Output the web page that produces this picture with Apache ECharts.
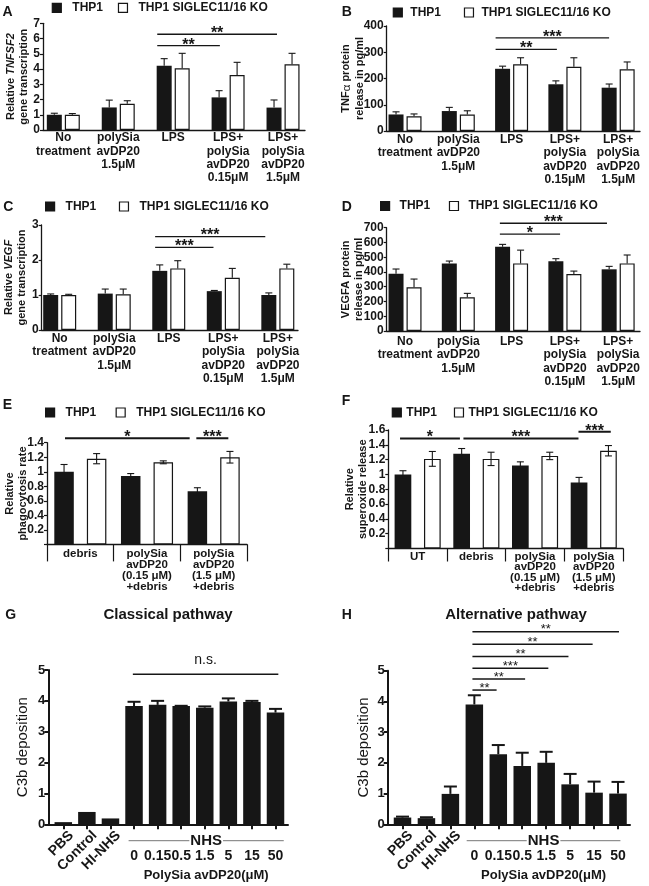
<!DOCTYPE html>
<html>
<head>
<meta charset="utf-8">
<script src="https://cdn.jsdelivr.net/npm/echarts@6/dist/echarts.min.js"></script>
<style>
  html, body { margin: 0; padding: 0; background: #fff; }
  #main { width: 649px; height: 886px; }
</style>
</head>
<body>
<div id="main"></div>
<script>
// ---------- data ----------
var groupsAD = ['No\ntreatment', 'polySia\navDP20\n1.5μM', 'LPS',
    'LPS+\npolySia\navDP20\n0.15μM', 'LPS+\npolySia\navDP20\n1.5μM'];

var tnfsf2Thp1    = [1.0, 1.48, 4.22, 2.14, 1.47];
var tnfsf2Thp1Err = [0.1, 0.48, 0.46, 0.44, 0.5];
var tnfsf2Ko      = [1.0, 1.72, 4.05, 3.61, 4.31];
var tnfsf2KoErr   = [0.08, 0.2, 0.98, 0.83, 0.72];
var tnfsf2Sig     = [[1.71, 2.85, 5.53], [1.71, 3.89, 6.28]];
var tnfsf2Stars   = ['**', '**'];

var tnfThp1    = [63, 76, 237, 178, 165];
var tnfThp1Err = [10, 14, 10, 13, 14];
var tnfKo      = [56, 63, 254, 245, 235];
var tnfKoErr   = [9, 14, 25, 34, 28];
var tnfSig     = [[1.70, 2.85, 311], [1.70, 3.83, 355]];
var tnfStars   = ['**', '***'];

var vegfThp1    = [1.0, 1.04, 1.69, 1.11, 1.0];
var vegfThp1Err = [0.03, 0.13, 0.17, 0.02, 0.06];
var vegfKo      = [1.0, 1.02, 1.76, 1.49, 1.76];
var vegfKoErr   = [0.02, 0.15, 0.22, 0.27, 0.12];
var vegfSig     = [[1.75, 2.82, 2.36], [1.75, 3.77, 2.67]];
var vegfStars   = ['***', '***'];

var vegfaThp1    = [388, 458, 571, 472, 418];
var vegfaThp1Err = [32, 16, 16, 18, 20];
var vegfaKo      = [296, 228, 458, 386, 458];
var vegfaKoErr   = [56, 27, 90, 20, 57];
var vegfaSig     = [[1.78, 2.91, 657], [1.78, 3.79, 730]];
var vegfaStars   = ['*', '***'];

var phagoGroups  = ['debris', 'polySia\navDP20\n(0.15 μM)\n+debris', 'polySia\navDP20\n(1.5 μM)\n+debris'];
var phagoThp1    = [1.0, 0.94, 0.73];
var phagoThp1Err = [0.1, 0.035, 0.05];
var phagoKo      = [1.18, 1.13, 1.2];
var phagoKoErr   = [0.07, 0.02, 0.08];
var phagoSig     = [[-0.23, 1.64, 1.46], [1.74, 2.22, 1.46]];
var phagoStars   = ['*', '***'];

var superGroups  = ['UT', 'debris', 'polySia\navDP20\n(0.15 μM)\n+debris', 'polySia\navDP20\n(1.5 μM)\n+debris'];
var superThp1    = [1.0, 1.28, 1.12, 0.89];
var superThp1Err = [0.05, 0.07, 0.05, 0.07];
var superKo      = [1.21, 1.21, 1.25, 1.32];
var superKoErr   = [0.1, 0.09, 0.05, 0.07];
var superSig     = [[-0.3, 0.72, 1.486], [0.78, 2.74, 1.486], [2.74, 3.29, 1.576]];
var superStars   = ['*', '***', '***'];

var c3bCats = ['PBS', 'Control', 'HI-NHS', '0', '0.15', '0.5', '1.5', '5', '15', '50'];

var classical       = [0.07, 0.4, 0.19, 3.83, 3.87, 3.83, 3.78, 3.98, 3.96, 3.62];
var classicalErr    = [0, 0, 0, 0.14, 0.13, 0.01, 0.04, 0.1, 0.04, 0.12];
var classicalSig    = [[2.95, 9.12, 4.86]];
var classicalSigTxt = ['n.s.'];

var alternative       = [0.22, 0.2, 0.99, 3.9, 2.28, 1.9, 2.0, 1.3, 1.03, 1.0];
var alternativeErr    = [0.03, 0.03, 0.24, 0.3, 0.3, 0.43, 0.36, 0.34, 0.36, 0.38];
var alternativeSig    = [[2.92, 3.93, 4.37], [2.92, 5.12, 4.73], [2.92, 6.09, 5.08],
                         [2.92, 6.93, 5.46], [2.92, 7.94, 5.86], [2.92, 9.04, 6.27]];
var alternativeSigTxt = ['**', '**', '***', '**', '**', '**'];

var nhsG = [[2.77, 9.35, 0]];
var nhsH = [[2.68, 9.1, 0]];
var nhsLabel = 'NHS';
var doseTitle = 'PolySia avDP20(μM)';

var seriesNames = ['THP1', 'THP1 SIGLEC11/16 KO'];

// ---------- layout ----------
var FONT = '"Liberation Sans", Arial, Helvetica, sans-serif';
var INK = '#161616';

var pairPanels = [
    { letter: 'A', lx: 7.5, ly: 12.5,
      grid: { left: 43, top: 23.3, width: 262, height: 106.7 }, xr: [-0.37, 4.4], yr: [0, 7, 1],
      cats: groupsAD, thp1: tnfsf2Thp1, thp1Err: tnfsf2Thp1Err, ko: tnfsf2Ko, koErr: tnfsf2KoErr,
      sig: tnfsf2Sig, stars: tnfsf2Stars,
      name: '{n|Relative }{i|TNFSF2}\n{n|gene transcription}', nameGap: 12,
      bw: 15, gap: 0.2, both: false, lab: { size: 12, lh: 13.3, margin: 1.5 }, sigLw: 1.3,
      legend: { left: 51.7, cy: 7.8, gap: 14.9, sp: 6 } },
    { letter: 'B', lx: 346.7, ly: 12.5,
      grid: { left: 386.7, top: 26, width: 253.3, height: 105 }, xr: [-0.344, 4.41], yr: [0, 400, 100],
      cats: groupsAD, thp1: tnfThp1, thp1Err: tnfThp1Err, ko: tnfKo, koErr: tnfKoErr,
      sig: tnfSig, stars: tnfStars,
      name: '{n|TNF}{g|α}{n| protein}\n{n|release in pg/ml}', nameGap: 20,
      bw: 15, gap: 0.2, both: false, lab: { size: 12, lh: 13.3, margin: 2 }, sigLw: 1.3,
      legend: { left: 392.7, cy: 12.5, gap: 22.9, sp: 3 } },
    { letter: 'C', lx: 8.3, ly: 206.7,
      grid: { left: 41.7, top: 225, width: 256.3, height: 105 }, xr: [-0.33, 4.37], yr: [0, 3, 1],
      cats: groupsAD, thp1: vegfThp1, thp1Err: vegfThp1Err, ko: vegfKo, koErr: vegfKoErr,
      sig: vegfSig, stars: vegfStars,
      name: '{n|Relative }{i|VEGF}\n{n|gene transcription}', nameGap: 12.5,
      bw: 15, gap: 0.2, both: false, lab: { size: 12, lh: 13.3, margin: 2 }, sigLw: 1.3,
      legend: { left: 45, cy: 206.5, gap: 22.6, sp: 6 } },
    { letter: 'D', lx: 346.7, ly: 206.7,
      grid: { left: 386.7, top: 227.7, width: 253.3, height: 103.3 }, xr: [-0.344, 4.41], yr: [0, 700, 100],
      cats: groupsAD, thp1: vegfaThp1, thp1Err: vegfaThp1Err, ko: vegfaKo, koErr: vegfaKoErr,
      sig: vegfaSig, stars: vegfaStars,
      name: '{n|VEGFA protein}\n{n|release in pg/ml}', nameGap: 20.5,
      bw: 15, gap: 0.2, both: false, lab: { size: 12, lh: 13.3, margin: 4 }, sigLw: 1.3,
      legend: { left: 380, cy: 206, gap: 18.6, sp: 5 } },
    { letter: 'E', lx: 7.5, ly: 405,
      grid: { left: 47, top: 442.7, width: 200, height: 101.7 }, xr: [-0.5, 2.5], yr: [0, 1.4, 0.2],
      cats: phagoGroups, thp1: phagoThp1, thp1Err: phagoThp1Err, ko: phagoKo, koErr: phagoKoErr,
      sig: phagoSig, stars: phagoStars, hideZero: true, divLen: 17,
      name: '{n|Relative}\n{n|phagocytosis rate}', nameGap: 17,
      bw: 19.5, gap: 0.67, both: true, lab: { size: 11.5, lh: 10.8, margin: 4.5 }, sigLw: 2,
      legend: { left: 45, cy: 412.5, gap: 19.3, sp: 6 } },
    { letter: 'F', lx: 346, ly: 401,
      grid: { left: 388.3, top: 430, width: 234.8, height: 118.5 }, xr: [-0.5, 3.5], yr: [0, 1.6, 0.2],
      cats: superGroups, thp1: superThp1, thp1Err: superThp1Err, ko: superKo, koErr: superKoErr,
      sig: superSig, stars: superStars, hideZero: true, divLen: 13,
      name: '{n|Relative}\n{n|superoxide release}', nameGap: 18.5,
      bw: 16.7, gap: 0.76, both: true, lab: { size: 11.5, lh: 10.5, margin: 3 }, sigLw: 2,
      legend: { left: 391.7, cy: 412.5, gap: 16.9, sp: 0 } }
];

var c3bPanels = [
    { letter: 'G', lx: 10.8, ly: 615, title: 'Classical pathway', tx: 168,
      grid: { left: 48.3, top: 670, width: 239.7, height: 154.3 }, xr: [-0.636, 9.53],
      vals: classical, errs: classicalErr, sig: classicalSig, sigTxt: classicalSigTxt,
      sigStyle: { size: 14, weight: 'normal', dy: -14, lw: 1.5 }, nhs: nhsG, nameGap: 18 },
    { letter: 'H', lx: 346.7, ly: 615, title: 'Alternative pathway', tx: 516,
      grid: { left: 387.7, top: 670.7, width: 242.3, height: 153.6 }, xr: [-0.618, 9.5],
      vals: alternative, errs: alternativeErr, sig: alternativeSig, sigTxt: alternativeSigTxt,
      sigStyle: { size: 13, weight: 'normal', dy: -2, lw: 1.5 }, nhs: nhsH, nameGap: 16.4 }
];
var rotShift = 0.34;   // nudges the slanted labels right of their tick, as in the figure

// ---------- render helpers ----------
function txt(size, weight) {
    return { fontSize: size, fontWeight: weight || 'bold', color: INK, fontFamily: FONT };
}

function errSeries(xi, yi, vals, errs, dx, both, cap, lw) {
    return {
        type: 'custom', xAxisIndex: xi, yAxisIndex: yi, clip: false, silent: true, z: 3,
        encode: { x: 0, y: 1 },
        data: vals.map(function (v, k) { return [k, v, errs[k]]; }),
        renderItem: function (params, api) {
            var x = api.value(0), m = api.value(1), e = api.value(2);
            if (!e) return null;
            var hi = api.coord([x, m + e]);
            var lo = api.coord([x, both ? m - e : m]);
            var cx = hi[0] + dx;
            var st = { stroke: INK, lineWidth: lw };
            var kids = [
                { type: 'line', shape: { x1: cx, y1: lo[1], x2: cx, y2: hi[1] }, style: st },
                { type: 'line', shape: { x1: cx - cap / 2, y1: hi[1], x2: cx + cap / 2, y2: hi[1] }, style: st }
            ];
            if (both)
                kids.push({ type: 'line', shape: { x1: cx - cap / 2, y1: lo[1], x2: cx + cap / 2, y2: lo[1] }, style: st });
            return { type: 'group', children: kids };
        }
    };
}

function sigSeries(xi, yi, spans, texts, s) {
    return {
        type: 'custom', xAxisIndex: xi, yAxisIndex: yi, clip: false, silent: true, z: 4,
        encode: { x: [0, 1], y: 2 },
        data: spans,
        renderItem: function (params, api) {
            var a = api.coord([api.value(0), api.value(2)]);
            var b = api.coord([api.value(1), api.value(2)]);
            return { type: 'group', children: [
                { type: 'line', shape: { x1: a[0], y1: a[1], x2: b[0], y2: b[1] },
                  style: { stroke: INK, lineWidth: s.lw } },
                { type: 'text', x: (a[0] + b[0]) / 2, y: a[1] + s.dy,
                  style: { text: texts[params.dataIndex], fill: INK, fontSize: s.size, fontWeight: s.weight,
                           fontFamily: FONT, align: 'center', verticalAlign: 'middle' } }
            ] };
        }
    };
}

function nhsSeries(xi, yi, span) {
    return {
        type: 'custom', xAxisIndex: xi, yAxisIndex: yi, clip: false, silent: true, z: 4,
        encode: { x: [0, 1], y: 2 },
        data: span,
        renderItem: function (params, api) {
            var a = api.coord([api.value(0), 0]);
            var b = api.coord([api.value(1), 0]);
            var mid = (a[0] + b[0]) / 2, y = a[1] + 16.4;
            return { type: 'group', children: [
                { type: 'line', shape: { x1: a[0], y1: y, x2: b[0], y2: y }, style: { stroke: '#777', lineWidth: 1 } },
                { type: 'text', x: mid, y: y, style: { text: nhsLabel, fill: INK, fontSize: 15, fontWeight: 'bold',
                  fontFamily: FONT, align: 'center', verticalAlign: 'middle', backgroundColor: '#fff', padding: [0, 1] } },
                { type: 'text', x: mid, y: a[1] + 50.7, style: { text: doseTitle, fill: INK, fontSize: 13,
                  fontWeight: 'bold', fontFamily: FONT, align: 'center', verticalAlign: 'middle' } }
            ] };
        }
    };
}

// ---------- build option ----------
var grids = [], xAxes = [], yAxes = [], series = [], legends = [], graphics = [];

pairPanels.forEach(function (p) {
    var gi = grids.length, xi = xAxes.length, yi = yAxes.length;
    var off = p.bw * (1 + p.gap) / 2;
    grids.push(Object.assign({ containLabel: false, outerBoundsMode: 'none' }, p.grid));

    var tick = { show: false };
    if (p.divLen) {
        var bounds = p.cats.map(function (c, k) { return k - 0.5; });
        bounds.push(p.cats.length - 0.5);
        tick = { show: true, customValues: bounds, length: p.divLen, lineStyle: { color: INK, width: 1.2 } };
    }
    xAxes.push({
        gridIndex: gi, type: 'value', position: 'bottom', min: p.xr[0], max: p.xr[1],
        splitLine: { show: false },
        axisLine: { show: true, onZero: false, lineStyle: { color: INK, width: 1.3 } },
        axisTick: tick,
        axisLabel: Object.assign({
            customValues: p.cats.map(function (c, k) { return k; }),
            formatter: function (v) { return p.cats[Math.round(v)]; },
            margin: p.lab.margin, lineHeight: p.lab.lh, verticalAlign: 'top'
        }, txt(p.lab.size))
    });

    var ylab = Object.assign({ margin: 3 }, txt(12));
    if (p.hideZero) ylab.formatter = function (v) { return v === 0 ? '' : String(+v.toFixed(1)); };
    yAxes.push({
        gridIndex: gi, type: 'value', position: 'left', min: p.yr[0], max: p.yr[1], interval: p.yr[2],
        splitLine: { show: false },
        axisLine: { show: true, onZero: false, lineStyle: { color: INK, width: 1.3 } },
        axisTick: { show: true, length: 3, lineStyle: { color: INK, width: 1.2 } },
        axisLabel: ylab,
        name: p.name, nameLocation: 'middle', nameRotate: 90, nameGap: p.nameGap, nameMoveOverlap: false,
        nameTextStyle: Object.assign({ lineHeight: 13.5, rich: {
            n: { fontSize: 11, fontWeight: 'bold', fontFamily: FONT, color: INK, lineHeight: 13.5 },
            i: { fontSize: 11, fontWeight: 'bold', fontStyle: 'italic', fontFamily: FONT, color: INK, lineHeight: 13.5 },
            g: { fontSize: 11.5, fontWeight: 'normal', fontFamily: FONT, color: INK, lineHeight: 13.5 }
        } }, txt(11))
    });

    series.push({ type: 'bar', name: seriesNames[0], xAxisIndex: xi, yAxisIndex: yi,
        barWidth: p.bw, barGap: (p.gap * 100) + '%', z: 2,
        itemStyle: { color: INK, borderColor: INK, borderWidth: 0 },
        data: p.thp1.map(function (v, k) { return [k, v]; }) });
    series.push({ type: 'bar', name: seriesNames[1], xAxisIndex: xi, yAxisIndex: yi,
        barWidth: p.bw, barGap: (p.gap * 100) + '%', z: 2,
        itemStyle: { color: '#fff', borderColor: INK, borderWidth: 1.2 },
        data: p.ko.map(function (v, k) { return [k, v]; }) });
    series.push(errSeries(xi, yi, p.thp1, p.thp1Err, -off, p.both, 7, 1.1));
    series.push(errSeries(xi, yi, p.ko, p.koErr, off, p.both, 7, 1.1));
    series.push(sigSeries(xi, yi, p.sig, p.stars, { size: 16, weight: 'bold', dy: -0.5, lw: p.sigLw }));

    var sp = p.legend.sp;
    legends.push({
        left: p.legend.left, top: p.legend.cy - 7, padding: 0, orient: 'horizontal',
        itemGap: p.legend.gap, itemWidth: 9, itemHeight: 9,
        icon: 'rect', selectedMode: false,
        itemStyle: { borderWidth: 1.2 },
        formatter: function (name) { return sp ? '{sp|}' + name : name; },
        textStyle: Object.assign({ lineHeight: 14, rich: { sp: { width: sp } } }, txt(12)),
        data: seriesNames
    });

    graphics.push({ type: 'text', x: p.lx, y: p.ly, style: { text: p.letter, fontSize: 14, fontWeight: 'bold',
        fontFamily: FONT, fill: INK, align: 'center', verticalAlign: 'middle' } });
});

c3bPanels.forEach(function (p) {
    var gi = grids.length, xi = xAxes.length, yi = yAxes.length;
    grids.push(Object.assign({ containLabel: false, outerBoundsMode: 'none' }, p.grid));
    var idx = c3bCats.map(function (c, k) { return k; });
    var fmt = function (v) { return c3bCats[Math.round(v)]; };

    // axis line + ticks
    xAxes.push({
        gridIndex: gi, type: 'value', position: 'bottom', min: p.xr[0], max: p.xr[1],
        splitLine: { show: false },
        axisLine: { show: true, onZero: false, lineStyle: { color: INK, width: 2 } },
        axisTick: { show: true, customValues: idx, length: 5, lineStyle: { color: INK, width: 2 } },
        axisLabel: { show: false }
    });
    // dose numbers
    xAxes.push({
        gridIndex: gi, type: 'value', position: 'bottom', min: p.xr[0], max: p.xr[1],
        splitLine: { show: false }, axisLine: { show: false, onZero: false }, axisTick: { show: false },
        axisLabel: Object.assign({ customValues: idx.slice(3), margin: 25, formatter: fmt }, txt(14))
    });
    // slanted control labels
    xAxes.push({
        gridIndex: gi, type: 'value', position: 'bottom', min: p.xr[0] - rotShift, max: p.xr[1] - rotShift,
        splitLine: { show: false }, axisLine: { show: false, onZero: false }, axisTick: { show: false },
        axisLabel: Object.assign({ customValues: [0, 1, 2], rotate: 45, margin: 9, formatter: fmt }, txt(14))
    });
    yAxes.push({
        gridIndex: gi, type: 'value', position: 'left', min: 0, max: 5, interval: 1,
        splitLine: { show: false },
        axisLine: { show: true, onZero: false, lineStyle: { color: INK, width: 2 } },
        axisTick: { show: true, length: 4, lineStyle: { color: INK, width: 2 } },
        axisLabel: Object.assign({ margin: 3 }, txt(13)),
        name: 'C3b deposition', nameLocation: 'middle', nameRotate: 90, nameGap: p.nameGap, nameMoveOverlap: false,
        nameTextStyle: txt(15, 'normal')
    });

    series.push({ type: 'bar', name: p.title, xAxisIndex: xi, yAxisIndex: yi, barWidth: 17.5, z: 2,
        itemStyle: { color: INK },
        data: p.vals.map(function (v, k) { return [k, v]; }) });
    series.push(errSeries(xi, yi, p.vals, p.errs, 0, false, 13, 2));
    series.push(sigSeries(xi, yi, p.sig, p.sigTxt, p.sigStyle));
    series.push(nhsSeries(xi, yi, p.nhs));

    graphics.push({ type: 'text', x: p.lx, y: p.ly, style: { text: p.letter, fontSize: 14, fontWeight: 'bold',
        fontFamily: FONT, fill: INK, align: 'center', verticalAlign: 'middle' } });
    graphics.push({ type: 'text', x: p.tx, y: p.ly, style: { text: p.title, fontSize: 15, fontWeight: 'bold',
        fontFamily: FONT, fill: INK, align: 'center', verticalAlign: 'middle' } });
});

var chart = echarts.init(document.getElementById('main'), null, { renderer: 'canvas' });
chart.setOption({
    animation: false,
    backgroundColor: '#fff',
    textStyle: { fontFamily: FONT },
    legend: legends,
    grid: grids,
    xAxis: xAxes,
    yAxis: yAxes,
    graphic: graphics,
    series: series
});
</script>
</body>
</html>
